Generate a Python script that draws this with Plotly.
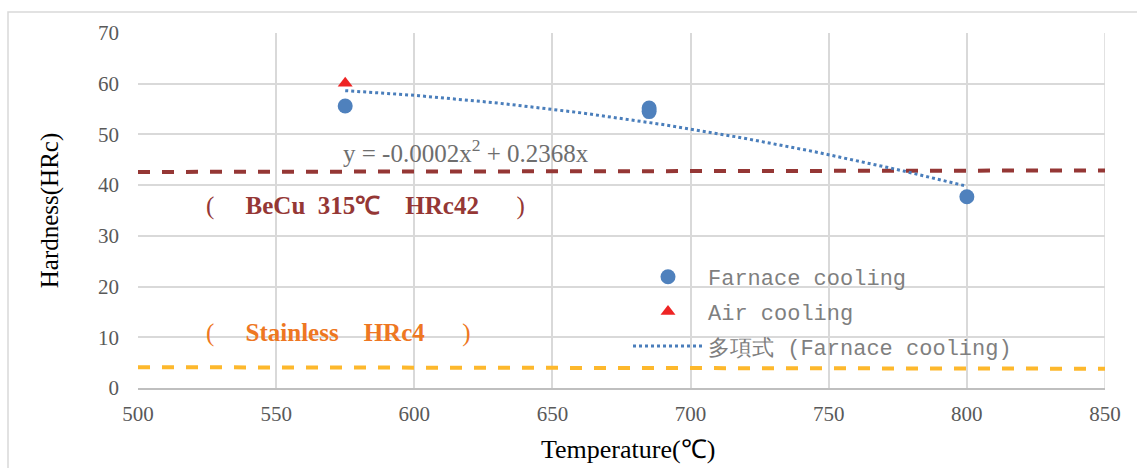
import numpy as np
import plotly.graph_objects as go

# ---- data ----
furnace_x = [575, 685, 685, 800]
furnace_y = [55.6, 55.2, 54.5, 37.7]
air_x = [575]
air_y = [60.1]
becu_x = [500, 850]
becu_y = [42.6, 42.9]
stainless_x = [500, 850]
stainless_y = [4.1, 3.8]
x_ticks = [500, 550, 600, 650, 700, 750, 800, 850]
y_ticks = [0, 10, 20, 30, 40, 50, 60, 70]

# polynomial trendline (order 2, intercept 0) fitted to furnace cooling data
fx = np.array(furnace_x, dtype=float)
fy = np.array(furnace_y, dtype=float)
A = np.vstack([fx ** 2, fx]).T
coef, *_ = np.linalg.lstsq(A, fy, rcond=None)
tx = np.linspace(min(furnace_x), max(furnace_x), 60)
ty = coef[0] * tx ** 2 + coef[1] * tx

L, R, T, B = 138, 32, 33, 80
PW = 1137 - L - R
PH = 468 - T - B


def px(x):
    return (x - L) / PW


def py(y):
    return (468 - B - y) / PH


fig = go.Figure()
fig.add_trace(go.Scatter(x=becu_x, y=becu_y, mode="lines", showlegend=False,
                         line=dict(color="#953735", width=4, dash="dash")))
fig.add_trace(go.Scatter(x=stainless_x, y=stainless_y, mode="lines", showlegend=False,
                         line=dict(color="#FDB82C", width=4, dash="dash")))
fig.add_trace(go.Scatter(x=furnace_x, y=furnace_y, mode="markers", name="Farnace cooling",
                         legendgroup="a",
                         marker=dict(color="#4F81BD", size=15, symbol="circle")))
fig.add_trace(go.Scatter(x=air_x, y=air_y, mode="markers", name="Air cooling",
                         legendgroup="b",
                         marker=dict(color="#EE2424", size=13, symbol="triangle-up")))
fig.add_trace(go.Scatter(x=tx, y=ty, mode="lines", name="多項式 (Farnace cooling)",
                         legendgroup="c",
                         line=dict(color="#4A7EBB", width=3, dash="dot")))

serif = "Liberation Serif"
fig.add_annotation(xref="paper", yref="paper", x=px(341), y=py(151),
                   xanchor="left", yanchor="middle", showarrow=False,
                   text="y = -0.0002x<sup>2</sup> + 0.2368x",
                   font=dict(family=serif, size=25, color="#6E6E6E"))
fig.add_annotation(xref="paper", yref="paper", x=px(204), y=py(206),
                   xanchor="left", yanchor="middle", showarrow=False,
                   text="(　 <b>BeCu  315℃　HRc42</b>　  )",
                   font=dict(family=serif, size=25, color="#953735"))
fig.add_annotation(xref="paper", yref="paper", x=px(204), y=py(333),
                   xanchor="left", yanchor="middle", showarrow=False,
                   text="(　 <b>Stainless　HRc4</b>　  )",
                   font=dict(family=serif, size=25, color="#EE7722"))
# x-axis title
fig.add_annotation(xref="paper", yref="paper", x=px(628), y=py(466),
                   xanchor="center", yanchor="bottom", showarrow=False,
                   text="Temperature(℃)",
                   font=dict(family=serif, size=26, color="#000000"))

# outer chart border
fig.add_shape(type="rect", xref="paper", yref="paper",
              x0=px(8), x1=px(1160), y0=py(480), y1=py(12),
              line=dict(color="#D9D9D9", width=1.5), layer="below")
fig.add_shape(type="line", xref="x", yref="paper", x0=850, x1=850, y0=0, y1=1,
              line=dict(color="#D9D9D9", width=1.5), layer="below")

fig.update_layout(
    width=1137, height=468,
    margin=dict(l=L, r=R, t=T, b=B),
    paper_bgcolor="white", plot_bgcolor="white",
    font=dict(family=serif, color="#595959"),
    legend=dict(x=px(628), y=py(256), xanchor="left", yanchor="top",
                bgcolor="rgba(0,0,0,0)", tracegroupgap=3, itemwidth=70,
                font=dict(family="Liberation Mono", size=22, color="#7F7F7F")),
    xaxis=dict(range=[500, 850], tickvals=x_ticks, showgrid=True, gridcolor="#D9D9D9",
               gridwidth=1.5, zeroline=False, showline=True, linecolor="#BFBFBF", linewidth=1.5,
               ticks="", ticklabelstandoff=6, automargin=False,
               tickfont=dict(family=serif, size=21, color="#595959")),
    yaxis=dict(range=[0, 70], tickvals=y_ticks, showgrid=True, gridcolor="#D9D9D9",
               gridwidth=1.5, zeroline=False, showline=False, ticks="",
               ticklabelstandoff=18, automargin=False,
               tickfont=dict(family=serif, size=21, color="#595959"),
               title=dict(text="Hardness(HRc)", font=dict(family=serif, size=25, color="#000000"),
                          standoff=32)),
)

fig.write_html("out.html")
